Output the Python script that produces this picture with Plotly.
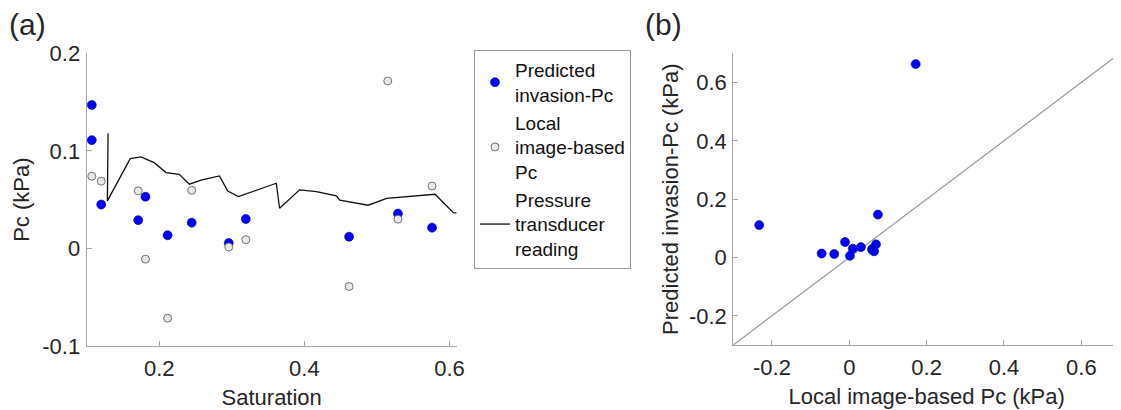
import plotly.graph_objects as go

# ---- data ----
saturation = [0.107, 0.107, 0.120, 0.171, 0.181, 0.2115, 0.2447, 0.2958, 0.3193, 0.4617, 0.515, 0.529, 0.576]
predicted_pc = [0.147, 0.111, 0.045, 0.029, 0.053, 0.0135, 0.0264, 0.0056, 0.0302, 0.012, 0.663, 0.0357, 0.0213]
local_pc = [0.074, -0.233, 0.069, 0.059, -0.011, -0.0715, 0.0596, 0.0015, 0.009, -0.039, 0.1716, 0.030, 0.064]

transducer_sat = [0.1295, 0.1285, 0.160, 0.1747, 0.193, 0.2093, 0.2276, 0.2415, 0.2576, 0.283, 0.2944,
                  0.3092, 0.3613, 0.3659, 0.3935, 0.4166, 0.4442, 0.4488, 0.488, 0.5134, 0.5801, 0.6054, 0.610]
transducer_pc = [0.118, 0.0487, 0.092, 0.0938, 0.0879, 0.0777, 0.076, 0.0658, 0.0699, 0.0743, 0.0589,
                 0.0531, 0.0668, 0.0412, 0.060, 0.0582, 0.0538, 0.0494, 0.0443, 0.0514, 0.0555, 0.0367, 0.0364]

diag_line = [-0.3, 0.7]

a_xticks = [0.2, 0.4, 0.6]
a_xticktext = ["0.2", "0.4", "0.6"]
a_yticks = [-0.1, 0.0, 0.1, 0.2]
a_yticktext = ["-0.1", "0", "0.1", "0.2"]
b_ticks = [-0.2, 0.0, 0.2, 0.4, 0.6]
b_ticktext = ["-0.2", "0", "0.2", "0.4", "0.6"]

FONT = "Liberation Sans, Arial, sans-serif"
TXT = "#262626"
AX = "#a6a6a6"
BLUE = "#0000ff"

# page has an 8px body margin; figure coords = page coords - 8
W, H = 1113, 402
OFF = 8

def px(xp):
    return (xp - OFF) / W

def py(yp):
    return 1 - (yp - OFF) / H

fig = go.Figure()

fig.add_trace(go.Scatter(
    x=saturation, y=predicted_pc, mode="markers", name="Predicted<br>invasion-Pc",
    marker=dict(color=BLUE, size=9, line=dict(color="#00008a", width=0.6)),
    xaxis="x", yaxis="y"))
fig.add_trace(go.Scatter(
    x=saturation, y=local_pc, mode="markers", name="Local<br>image-based<br>Pc",
    marker=dict(color="#e8e8e8", size=8, line=dict(color="#555555", width=0.8)),
    xaxis="x", yaxis="y"))
fig.add_trace(go.Scatter(
    x=transducer_sat, y=transducer_pc, mode="lines", name="Pressure<br>transducer<br>reading",
    line=dict(color="#111111", width=1.3),
    xaxis="x", yaxis="y"))

fig.add_trace(go.Scatter(
    x=diag_line, y=diag_line, mode="lines", showlegend=False,
    line=dict(color="#999999", width=1.2), xaxis="x2", yaxis="y2"))
fig.add_trace(go.Scatter(
    x=local_pc, y=predicted_pc, mode="markers", showlegend=False,
    marker=dict(color=BLUE, size=9, line=dict(color="#00008a", width=0.6)),
    xaxis="x2", yaxis="y2"))

common = dict(showline=True, linecolor=AX, linewidth=1.2, ticks="inside", ticklen=5,
              tickcolor=AX, tickwidth=1, showgrid=False, zeroline=False,
              tickfont=dict(family=FONT, size=22, color=TXT), automargin=False,
              mirror=False)

fig.update_layout(
    width=W, height=H,
    margin=dict(l=0, r=0, t=0, b=0),
    paper_bgcolor="white", plot_bgcolor="white",
    font=dict(family=FONT, size=22, color=TXT),
    xaxis=dict(domain=[px(86.7), px(456.7)], anchor="y", range=[0.1, 0.61],
               tickvals=a_xticks, ticktext=a_xticktext, ticklabelstandoff=2,
               title=dict(text="Saturation", standoff=10, font=dict(size=22)), **common),
    yaxis=dict(domain=[py(346), py(53.3)], anchor="x", range=[-0.1, 0.2],
               tickvals=a_yticks, ticktext=a_yticktext, ticklabelstandoff=1,
               title=dict(text="Pc (kPa)", standoff=6, font=dict(size=22)), **common),
    xaxis2=dict(domain=[px(733.3), px(1120)], anchor="y2", range=[-0.3, 0.7],
                tickvals=b_ticks, ticktext=b_ticktext, ticklabelstandoff=2,
                title=dict(text="Local image-based Pc (kPa)", standoff=10, font=dict(size=22)), **common),
    yaxis2=dict(domain=[py(345), py(53.3)], anchor="x2", range=[-0.3, 0.7],
                tickvals=b_ticks, ticktext=b_ticktext, ticklabelstandoff=1,
                title=dict(text="Predicted invasion-Pc (kPa)", standoff=4, font=dict(size=22)), **common),
    legend=dict(x=px(474), y=py(50), xanchor="left", yanchor="top",
                bordercolor="#999999", borderwidth=1, bgcolor="white",
                font=dict(family=FONT, size=19, color="#111111"),
                tracegroupgap=0, itemwidth=30),
    showlegend=True,
    annotations=[
        dict(text="(a)", x=px(7), y=py(24), xref="paper", yref="paper",
             xanchor="left", yanchor="middle", showarrow=False,
             font=dict(family=FONT, size=30, color=TXT)),
        dict(text="(b)", x=px(643), y=py(24), xref="paper", yref="paper",
             xanchor="left", yanchor="middle", showarrow=False,
             font=dict(family=FONT, size=30, color=TXT)),
    ],
)

fig.write_html("out.html")
